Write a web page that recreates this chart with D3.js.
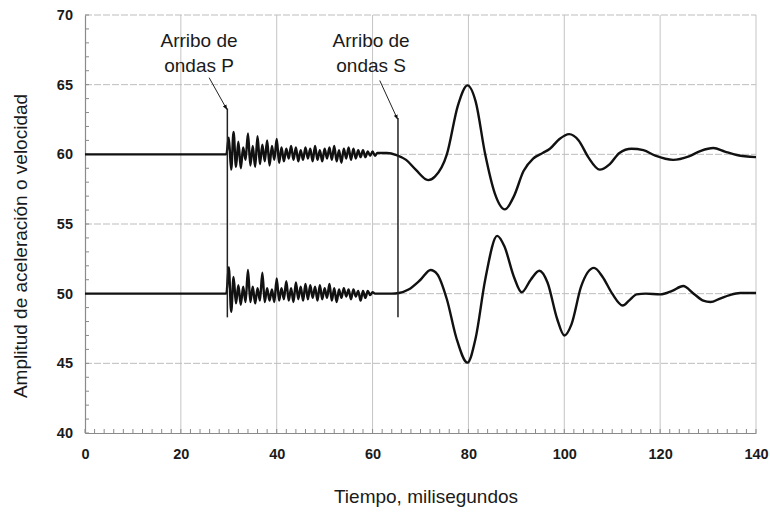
<!DOCTYPE html>
<html>
<head>
<meta charset="utf-8">
<script src="https://cdn.jsdelivr.net/npm/d3@7"></script>
<style>
  html, body { margin: 0; padding: 0; background: #fff; }
  svg { display: block; }
  text { font-family: "Liberation Sans", Arial, sans-serif; fill: #1a1a1a; }
</style>
</head>
<body>
<svg id="chart" width="770" height="512"></svg>
<script>
// ---- data ---------------------------------------------------------------
const xTicks = [0, 20, 40, 60, 80, 100, 120, 140];
const yTicks = [40, 45, 50, 55, 60, 65, 70];

// recording before the P arrival (flat baselines)
const preTimes = [0, 10, 20, 29.5];

// P-wave noise section, sampled every 0.5 ms from 30 to 61 ms
const noiseStart = 30, noiseStep = 0.5;
const upperNoise = [1.2, -1.1, 1.6, -0.9, 0.9, -1.0, 0.5, -0.4, 1.5, -0.8, 0.6, -0.9, 1.3, -0.7, 0.7, -0.5,
  1.0, -0.8, 0.6, -0.4, 1.1, -0.6, 0.5, -0.5, 0.4, -0.3, 0.6, -0.4, 0.5, -0.5, 0.3, -0.4, 0.5, -0.3,
  0.4, -0.5, 0.6, -0.4, 0.3, -0.5, 0.4, -0.3, 0.5, -0.4, 0.6, -0.5, 0.3, -0.6, 0.4, -0.3, 0.5, -0.4,
  0.4, -0.3, 0.3, -0.2, 0.3, -0.2, 0.2, -0.1, 0.2, -0.1, 0.1];
const lowerNoise = [1.9, -1.3, 1.2, -0.7, 0.6, -0.8, 0.5, -0.6, 1.7, -0.6, 0.5, -0.7, 0.4, -0.5, 1.5, -0.6,
  0.4, -0.5, 0.3, -0.6, 1.1, -0.5, 0.4, -0.4, 0.9, -0.5, 0.4, -0.6, 0.8, -0.4, 0.5, -0.5, 0.7, -0.4,
  0.6, -0.3, 0.5, -0.5, 0.6, -0.4, 0.4, -0.3, 0.7, -0.5, 0.4, -0.6, 0.3, -0.3, 0.4, -0.2, 0.3, -0.4,
  0.3, -0.2, 0.2, -0.5, 0.2, -0.3, 0.2, -0.1, 0.1, 0, 0];
const upperBase = 60, lowerBase = 50;

// S-wave section: [time (ms), amplitude]
const upperWave = [[61.5, 60.1], [63, 60.1], [65, 59.95], [67, 59.6], [69, 58.9], [71.6, 58.15], [73, 58.4],
  [75.5, 60.0], [77.8, 63.5], [79.8, 64.95], [81.5, 63.8], [83.5, 60.0], [85.5, 57.2], [87.6, 56.05],
  [89.5, 57], [91.5, 58.8], [93.5, 59.7], [95.5, 60.1], [97, 60.4], [99, 61.1], [101, 61.45], [103, 61.0],
  [105, 59.8], [107.4, 58.9], [109.5, 59.3], [111.5, 60.1], [114, 60.4], [116.5, 60.3], [119, 59.9],
  [122.7, 59.6], [126, 59.85], [128.5, 60.25], [131.1, 60.45], [133.5, 60.2], [136, 59.95], [140, 59.8]];
const lowerWave = [[61.5, 50], [64, 50.0], [65.5, 50.05], [67.5, 50.3], [70, 51.0], [72.1, 51.7], [73.5, 51.4],
  [75.5, 49.6], [77.5, 46.8], [79.8, 45.05], [81.5, 46.8], [83.5, 51], [86, 54.15], [87.5, 53.4],
  [89.5, 51.2], [91.1, 50.1], [93, 51.0], [94.8, 51.65], [96.5, 50.8], [98.5, 48.2], [100, 47.0],
  [101.5, 47.8], [103.5, 50.5], [106.2, 51.85], [108, 51.2], [110, 50], [112.2, 49.15], [113.5, 49.5],
  [115.1, 49.95], [117, 50.0], [120, 49.95], [122.5, 50.2], [124.8, 50.55], [127, 50.0], [129, 49.5],
  [130.5, 49.4], [132.5, 49.65], [134.5, 49.9], [136.7, 50.05], [140, 50.05]];

// arrival markers: time, extent of the marker line, label position, pointer start
const arrivals = [
  { t: 29.7, top: 63.3, bottom: 48.3, lines: ["Arribo de", "ondas P"], labelT: 23.8,
    fromT: 25.9, fromV: 65.5 },
  { t: 65.3, top: 62.6, bottom: 48.3, lines: ["Arribo de", "ondas S"], labelT: 59.7,
    fromT: 61.5, fromV: 65.3 }
];

// ---- layout -------------------------------------------------------------
const svg = d3.select("#chart");
const x = d3.scaleLinear().domain([0, 140]).range([85, 756]);
const y = d3.scaleLinear().domain([40, 70]).range([433, 15]);

function buildSeries(base, noise, wave) {
  const pts = preTimes.map(t => [t, base]);
  noise.forEach((d, i) => pts.push([noiseStart + i * noiseStep, base + d]));
  return pts.concat(wave);
}
const upper = buildSeries(upperBase, upperNoise, upperWave);
const lower = buildSeries(lowerBase, lowerNoise, lowerWave);

// ---- grid ---------------------------------------------------------------
const grid = svg.append("g");
grid.selectAll("line.v").data(xTicks.slice(1)).join("line")
  .attr("x1", d => x(d)).attr("x2", d => x(d))
  .attr("y1", y(40)).attr("y2", y(70))
  .attr("stroke", "#c4c4c4").attr("stroke-width", 1);
grid.selectAll("line.h").data(yTicks.slice(1)).join("line")
  .attr("x1", x(0)).attr("x2", x(140))
  .attr("y1", d => y(d)).attr("y2", d => y(d))
  .attr("stroke", "#bdbdbd").attr("stroke-width", 1)
  .attr("stroke-dasharray", "7,2");

// ---- axes ---------------------------------------------------------------
const axisColor = "#8a8a8a";
const xAxis = svg.append("g").attr("transform", `translate(0,${y(40)})`)
  .call(d3.axisBottom(x).tickValues(xTicks).tickSize(0).tickPadding(16));
const yAxis = svg.append("g").attr("transform", `translate(${x(0)},0)`)
  .call(d3.axisLeft(y).tickValues(yTicks).tickSize(0).tickPadding(12));
[xAxis, yAxis].forEach(g => {
  g.select(".domain").attr("stroke", axisColor).attr("stroke-width", 1.2);
  g.selectAll("text").style("font-size", "14.5px").style("font-weight", "bold")
    .style("font-family", "'Liberation Sans', Arial, sans-serif").attr("fill", "#1a1a1a");
});

// minor ticks drawn inside the plot
const xMinor = d3.range(0, 141, 2);
const yMinor = d3.range(40, 71, 1);
svg.append("g").selectAll("line").data(xMinor).join("line")
  .attr("x1", d => x(d)).attr("x2", d => x(d))
  .attr("y1", y(40)).attr("y2", y(40) - 4)
  .attr("stroke", axisColor).attr("stroke-width", 1);
svg.append("g").selectAll("line").data(yMinor).join("line")
  .attr("x1", x(0)).attr("x2", x(0) + 4)
  .attr("y1", d => y(d)).attr("y2", d => y(d))
  .attr("stroke", axisColor).attr("stroke-width", 1);

// ---- waveforms ----------------------------------------------------------
const line = d3.line().x(d => x(d[0])).y(d => y(d[1])).curve(d3.curveMonotoneX);
[upper, lower].forEach(s => {
  svg.append("path").datum(s).attr("d", line)
    .attr("fill", "none").attr("stroke", "#111").attr("stroke-width", 2.4)
    .attr("stroke-linejoin", "round");
});

// ---- arrival markers ----------------------------------------------------
svg.append("defs").append("marker")
  .attr("id", "head").attr("viewBox", "0 0 10 10").attr("refX", 9).attr("refY", 5)
  .attr("markerWidth", 5).attr("markerHeight", 5).attr("orient", "auto")
  .append("path").attr("d", "M0,1 L10,5 L0,9 Z").attr("fill", "#111");

const ann = svg.append("g");
arrivals.forEach(a => {
  ann.append("line")
    .attr("x1", x(a.t)).attr("x2", x(a.t))
    .attr("y1", y(a.top)).attr("y2", y(a.bottom))
    .attr("stroke", "#222").attr("stroke-width", 1.5);
  ann.append("line")
    .attr("x1", x(a.fromT)).attr("y1", y(a.fromV))
    .attr("x2", x(a.t) - 0.5).attr("y2", y(a.top) + 1)
    .attr("stroke", "#222").attr("stroke-width", 1)
    .attr("marker-end", "url(#head)");
  const txt = ann.append("text").attr("text-anchor", "middle").style("font-size", "19px");
  a.lines.forEach((l, i) => {
    txt.append("tspan").attr("x", x(a.labelT)).attr("y", 47 + i * 25).text(l);
  });
});

// ---- axis titles --------------------------------------------------------
svg.append("text").attr("x", 426).attr("y", 503).attr("text-anchor", "middle")
  .style("font-size", "19px").text("Tiempo, milisegundos");
svg.append("text").attr("transform", "translate(27,246) rotate(-90)").attr("text-anchor", "middle")
  .style("font-size", "19px").text("Amplitud de aceleración o velocidad");
</script>
</body>
</html>
